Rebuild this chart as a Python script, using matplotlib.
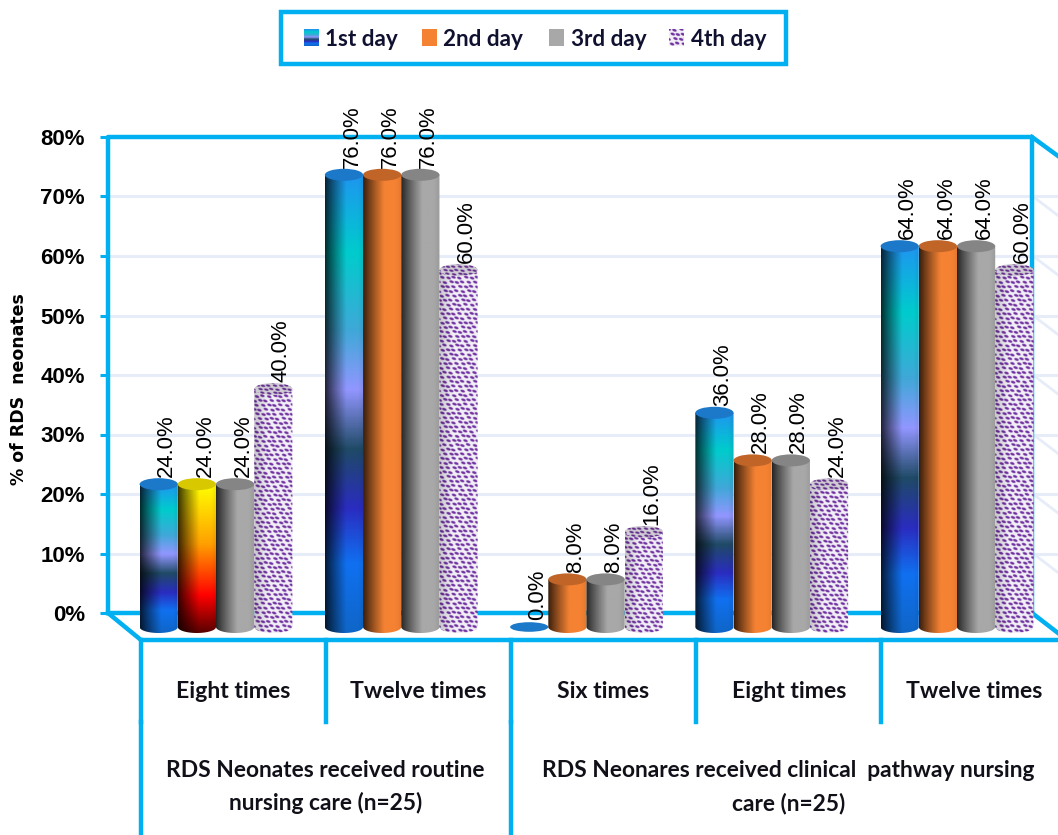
"""Cylinder bars of RDS neonates by feeding frequency and nursing care group"""
import matplotlib

matplotlib.use("Agg")
import matplotlib.pyplot as plt
import numpy as np
from matplotlib.colors import LinearSegmentedColormap, to_rgb
from matplotlib.patches import Ellipse, Polygon, Rectangle
from matplotlib.transforms import Affine2D

W, H = 1058, 835

# chart values
series_names = ["1st day", "2nd day", "3rd day", "4th day"]
frequency_labels = ["Eight times", "Twelve times", "Six times", "Eight times", "Twelve times"]
day1 = [24.0, 76.0, 0.0, 36.0, 64.0]
day2 = [24.0, 76.0, 8.0, 28.0, 64.0]
day3 = [24.0, 76.0, 8.0, 28.0, 64.0]
day4 = [40.0, 60.0, 16.0, 24.0, 60.0]
group_labels = [
    "RDS Neonates received routine\nnursing care (n=25)",
    "RDS Neonares received clinical  pathway nursing\ncare (n=25)",
]
y_ticks = [0, 10, 20, 30, 40, 50, 60, 70, 80]

CYAN = "#00b0f0"
GRID = "#e6ecf8"
PURPLE = "#7030a0"
ORANGE = "#f58233"
GRAY = "#a8a8a8"

# vertical colour ramps
ocean = LinearSegmentedColormap.from_list(
    "ocean_band",
    [(0, "#0f66c8"), (0.15, "#1070f0"), (0.27, "#2a2cc0"), (0.40, "#1f4a66"),
     (0.53, "#9296ff"), (0.66, "#3fa8d8"), (0.83, "#00cccc"), (1, "#1e96f0")],
)
fire = LinearSegmentedColormap.from_list(
    "fire_band",
    [(0, "#5a0000"), (0.25, "#ff0000"), (0.6, "#ffa000"), (1, "#ffff00")],
)

px_per_pct = 5.95
px_per_group = 185.25
floor_px = 627  # pixel row of the bar floor
bar_w = 38.2 / px_per_group
ell_h = 12 / px_per_pct  # full height of the cylinder caps
wall_shift = (floor_px - 613) / px_per_pct  # back wall sits above the bar floor

fig = plt.figure(figsize=(W / 100, H / 100), dpi=100)
ax = fig.add_axes([108 / W, 0, (W - 108) / W, 1])
ax.set_xlim((108 - 216) / px_per_group, (W - 216) / px_per_group)
ax.set_ylim((floor_px - H) / px_per_pct, floor_px / px_per_pct)
for s in ax.spines.values():
    s.set_visible(False)
ax.patch.set_visible(False)

# pixel space for the frame of the 3d box
px = Affine2D().scale(1, -1).translate(0, H)


def frame_line(xs, ys, lw=3.2, color=CYAN, z=2):
    ax.plot(xs, ys, color=color, lw=lw, transform=px, clip_on=False,
            solid_capstyle="projecting", zorder=z)


def shade(n):
    u = np.linspace(0, 1, n)
    s = 0.22 + 0.78 * np.clip(u / 0.55, 0, 1) ** 0.9
    return s * (1 - 0.08 * np.clip((u - 0.85) / 0.15, 0, 1))


def texture(nx, ny, scale=3.0):
    # white ground with staggered purple flecks, built in screen pixels
    X, Y = np.meshgrid(np.arange(nx) / scale, np.arange(ny) / scale)
    row = np.floor(Y / 4.6)
    col = np.floor((X + 2.9 * np.mod(row, 2)) / 5.8)
    jitter = np.sin(row * 2.3 + col * 1.7)
    dx = np.mod(X + 2.9 * np.mod(row, 2), 5.8) - 2.9 + 0.7 * jitter
    dy = np.mod(Y, 4.6) - 2.3 + 0.5 * np.cos(row * 1.1 + col * 2.9)
    d = ((dx + 0.6 * dy) / 1.9) ** 2 + (dy / 1.35) ** 2
    mask = np.clip((1.5 - d) * 1.4, 0, 1)[..., None]
    rgb = np.array(to_rgb(PURPLE)) * mask + np.array([0.95, 0.94, 0.97]) * (1 - mask)
    return rgb


def bar_image(kind, value):
    h_px = max(int((value + ell_h) * px_per_pct), 4)
    if kind == "texture":
        nx, ny = 115, h_px * 3
        rgb = texture(nx, ny)
        return rgb * (0.82 + 0.18 * np.clip(np.linspace(0, 1, nx) / 0.35, 0, 1))[None, :, None]
    nx, ny = 64, h_px
    if kind in ("ocean", "fire"):
        # row 0 is the lowest row of the image
        ramp = (ocean if kind == "ocean" else fire)(np.linspace(0, 1, ny))[:, :3]
        rgb = np.repeat(ramp[:, None, :], nx, axis=1)
    else:
        rgb = np.ones((ny, nx, 3)) * np.array(to_rgb(kind))
    return rgb * shade(nx)[None, :, None]


def cylinder(x, value, kind, cap, z):
    left, right = x - bar_w / 2, x + bar_w / 2
    t = np.linspace(np.pi, 2 * np.pi, 40)
    base_x = x + bar_w / 2 * np.cos(t)
    base_y = ell_h / 2 * np.sin(t)
    if value > 0:
        verts = [(left, value)] + list(zip(base_x, base_y)) + [(right, value)]
        body = Polygon(verts, closed=True, transform=ax.transData, fc="none", ec="none")
        ax.add_patch(body)
        im = ax.imshow(bar_image(kind, value), origin="lower", aspect="auto",
                       extent=(left, right, -ell_h / 2, value), interpolation="bilinear", zorder=z)
        im.set_clip_path(body)
    top_h = ell_h if value > 0 else ell_h * 0.8
    if kind == "texture":
        lid = Ellipse((x, value), bar_w, top_h, fc="none", ec="none")
        ax.add_patch(lid)
        im = ax.imshow(texture(115, 45) * 0.86, origin="lower", aspect="auto",
                       extent=(left, right, value - top_h / 2, value + top_h / 2),
                       interpolation="bilinear", zorder=z + 0.1)
        im.set_clip_path(lid)
    else:
        ax.add_patch(Ellipse((x, value), bar_w, top_h, fc=cap, ec="none", zorder=z + 0.1))


# back wall grid and side wall grid
for v in y_ticks[1:-1]:
    ax.plot([0, 1], [v + wall_shift] * 2, color=GRID, lw=2.2, zorder=1,
            transform=ax.get_yaxis_transform())
    y_px = 613 - v * px_per_pct
    frame_line([1033, W], [y_px, y_px + 19], lw=2.0, color=GRID, z=1)

ax.set_yticks([v + wall_shift for v in y_ticks])
ax.set_yticklabels([f"{v}%" for v in y_ticks], fontfamily="Liberation Sans",
                   fontweight="bold", fontsize=16)
ax.tick_params(axis="y", length=5.5, width=2.2, color=CYAN, pad=11)
ax.set_xticks([])
ax.set_ylabel("% of RDS  neonates", fontfamily="DejaVu Sans", fontweight="bold", fontsize=12.5)
ax.yaxis.set_label_coords(-80 / (W - 108), 1 - 389 / H)

# walls and floor
frame_line([108, 108, 1032, 1032], [613, 137, 137, 615])
frame_line([1032, W], [137, 156])
frame_line([108, 1032], [613, 613])
frame_line([108, 141, W], [613, 640, 640])
frame_line([1032, W], [613, 633])
for x_px in [141, 326, 511, 696, 881]:
    frame_line([x_px, x_px], [640, 722])
for x_px in [141, 511]:
    frame_line([x_px, x_px], [722, H])

# bars, left to right so each one overlaps its left neighbour
series = [day1, day2, day3, day4]
kinds = ["ocean", ORANGE, GRAY, "texture"]
caps = ["#1c78c8", "#c06428", "#858585", "#b9a8cc"]
z = 3
for g in range(len(frequency_labels)):
    for k, values in enumerate(series):
        x = g + (k - 1.5) * bar_w
        kind, cap = kinds[k], caps[k]
        if g == 0 and k == 1:
            kind, cap = "fire", "#d8c800"
        cylinder(x, values[g], kind, cap, z)
        z += 1
        ax.text(x + 8 / px_per_group, values[g] + ell_h / 2 + 0.2, f"{values[g]:.1f}%",
                rotation=90, ha="center", va="bottom", fontsize=15.9,
                fontfamily="Liberation Sans", color="black", zorder=50)
ax.set_xlim((108 - 216) / px_per_group, (W - 216) / px_per_group)
ax.set_ylim((floor_px - H) / px_per_pct, floor_px / px_per_pct)

# category labels under the floor
for g, name in enumerate(frequency_labels):
    ax.text(g + 17 / px_per_group, (floor_px - 691) / px_per_pct, name, ha="center", va="center",
            fontfamily="Lato", fontweight="bold", fontsize=16.6, color="#101018", zorder=60)
for cx, label in zip([0.5 + 17 / px_per_group, 3 + 17 / px_per_group], group_labels):
    ax.text(cx, (floor_px - 787) / px_per_pct, label, ha="center", va="center", linespacing=1.65,
            fontfamily="Lato", fontweight="bold", fontsize=16.4, color="#101018", zorder=60)

# legend box
legend_ax = fig.add_axes([0, 0, 1, 1])
legend_ax.set_xlim(0, W)
legend_ax.set_ylim(H, 0)
legend_ax.axis("off")
legend_ax.add_patch(Rectangle((280.5, 11.5), 505, 52.5, fc="white", ec=CYAN, lw=3.2))
swatch_x = [304, 422, 549, 669]
text_x = [325, 443, 571, 691]
for k, name in enumerate(series_names):
    box = (swatch_x[k], swatch_x[k] + 15, 46, 29)
    if k == 0:
        legend_ax.imshow(ocean(np.linspace(0, 1, 32))[:, None, :3], origin="lower",
                         aspect="auto", extent=box, zorder=3)
    elif k == 3:
        legend_ax.imshow(texture(45, 51), origin="lower", aspect="auto", extent=box, zorder=3)
    else:
        legend_ax.add_patch(Rectangle((box[0], 29), 15, 17, fc=kinds[k], ec="none", zorder=3))
    legend_ax.text(text_x[k], 39, name, ha="left", va="center", fontfamily="Lato",
                   fontweight="bold", fontsize=16.2, color="#101030", zorder=4)
legend_ax.set_xlim(0, W)
legend_ax.set_ylim(H, 0)

plt.savefig("out.png", dpi=100)
